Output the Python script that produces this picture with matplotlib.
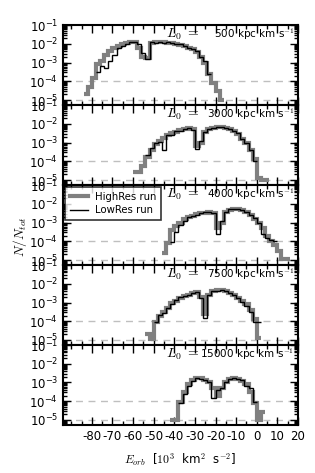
import numpy as np
import matplotlib
matplotlib.use("Agg")
import matplotlib.pyplot as plt
from matplotlib.ticker import MultipleLocator, LogLocator, NullFormatter

plt.rcParams['mathtext.fontset'] = 'cm'
plt.rcParams['font.family'] = ['DejaVu Sans']
plt.rcParams['axes.unicode_minus'] = False

# L0 values of each panel
l0_labels = ["500", "3000", "4000", "7500", "15000"]
bin_width = 2.0

# log10(N/Ntot) per 2x10^3 km^2 s^-2 bin
high_start = [-84, -60, -46, -54, -42]
high_logs = [
    [-4.7, -4.3, -3.8, -3.1, -2.9, -2.6, -2.4, -2.2, -2.1, -2.0, -1.95, -1.9,
     -1.9, -2.2, -2.7, -2.75, -1.95, -1.9, -1.9, -1.9, -1.95, -1.95, -2.0,
     -2.05, -2.1, -2.2, -2.3, -2.45, -2.7, -3.0, -3.6, -4.1, -4.5, -5.0],
    [-4.55, -4.55, -4.25, -3.75, -3.4, -3.1, -2.9, -2.75, -2.6, -2.5, -2.45,
     -2.35, -2.3, -2.25, -2.3, -3.2, -3.0, -2.45, -2.3, -2.2, -2.15, -2.15,
     -2.2, -2.3, -2.4, -2.55, -2.8, -3.05, -3.4, -3.9, -4.9, -5.0, -5.0],
    [-4.6, -4.1, -3.4, -3.2, -3.0, -2.8, -2.7, -2.65, -2.55, -2.5, -2.5,
     -2.45, -2.5, -3.3, -3.0, -2.45, -2.35, -2.3, -2.3, -2.35, -2.45, -2.6,
     -2.8, -3.0, -3.3, -3.7, -4.0, -4.2, -4.5, -4.95, -4.95],
    [-4.7, -4.95, -4.05, -3.7, -3.5, -3.3, -3.05, -2.9, -2.75, -2.65, -2.6,
     -2.5, -2.45, -2.7, -3.6, -2.6, -2.4, -2.35, -2.35, -2.4, -2.5, -2.6,
     -2.75, -2.9, -3.1, -3.4, -3.9, -4.9],
    [-5.0, -5.0, -4.05, -3.5, -3.1, -2.85, -2.75, -2.75, -2.85, -2.95, -3.3,
     -3.7, -3.3, -2.95, -2.8, -2.75, -2.8, -2.9, -3.1, -3.5, -4.1, -5.0, -4.6],
]

low_start = [-78, -54, -42, -50, -38]
low_logs = [
    [-3.5, -3.2, -3.3, -2.9, -2.6, -2.25, -2.1, -2.0, -1.9, -1.9, -2.0, -2.5,
     -2.8, -1.9, -1.95, -1.9, -1.95, -1.9, -1.95, -2.0, -2.0, -2.1, -2.2,
     -2.3, -2.4, -2.7, -2.9, -3.6],
    [-3.65, -3.3, -3.0, -2.95, -3.4, -2.6, -2.6, -2.4, -2.4, -2.3, -2.25,
     -2.35, -3.35, -2.9, -2.45, -2.3, -2.2, -2.15, -2.15, -2.2, -2.3, -2.4,
     -2.5, -2.8, -3.0, -3.4, -4.0],
    [-4.05, -3.5, -3.15, -2.9, -2.7, -2.65, -2.6, -2.5, -2.45, -2.45, -2.5,
     -3.6, -2.9, -2.45, -2.3, -2.3, -2.3, -2.35, -2.45, -2.6, -2.75, -3.0,
     -3.6, -3.8, -3.95, -4.0],
    [-4.05, -3.65, -3.55, -3.3, -3.1, -2.85, -2.7, -2.65, -2.6, -2.5, -2.45,
     -2.75, -3.8, -2.6, -2.4, -2.4, -2.35, -2.4, -2.5, -2.6, -2.75, -2.95,
     -3.2, -3.5, -4.05, -4.05],
    [-4.1, -3.6, -3.2, -2.9, -2.75, -2.8, -2.85, -2.95, -3.85, -3.4, -3.3,
     -2.95, -2.8, -2.75, -2.8, -2.85, -3.2, -3.3, -4.05],
]

fig, axes = plt.subplots(5, 1, figsize=(3.15, 4.73), dpi=100, sharex=True)
fig.subplots_adjust(left=0.2, right=0.946, top=0.947, bottom=0.1015, hspace=0)

for i, ax in enumerate(axes):
    hv = 10 ** np.array(high_logs[i])
    he = high_start[i] + bin_width * np.arange(len(hv) + 1)
    lv = 10 ** np.array(low_logs[i])
    le = low_start[i] + bin_width * np.arange(len(lv) + 1)
    ax.axhline(1e-4, color='0.75', lw=1, ls=(0, (5, 4)), zorder=1)
    ax.axhline(1e-5, color='0.75', lw=1, ls=(0, (5, 4)), zorder=1)
    ax.stairs(hv, he, baseline=None, color='0.5', lw=3, label='HighRes run', zorder=2)
    ax.stairs(lv, le, baseline=None, color='k', lw=1, label='LowRes run', zorder=3)
    ax.set_yscale('log')
    ax.set_ylim(5.4e-6, 0.1)
    ax.set_xlim(-94, 20)
    ax.yaxis.set_major_locator(LogLocator(base=10, numticks=10))
    ax.yaxis.set_minor_locator(LogLocator(base=10, subs=np.arange(2, 10), numticks=10))
    ax.yaxis.set_minor_formatter(NullFormatter())
    ax.xaxis.set_major_locator(MultipleLocator(10))
    ax.xaxis.set_minor_locator(MultipleLocator(5))
    ax.tick_params(which='both', direction='in', top=True, right=True,
                   labelsize=8.5, width=1)
    ax.tick_params(which='major', length=6)
    ax.tick_params(which='minor', length=3)
    for sp in ax.spines.values():
        sp.set_linewidth(1.5)
    ax.text(0.44, 0.88, r"$L_0\ =$", transform=ax.transAxes,
            ha='left', va='center', fontsize=10)
    ax.text(0.985, 0.88, l0_labels[i] + r" kpc km s$^{-1}$",
            transform=ax.transAxes, ha='right', va='center', fontsize=7.5)

leg = axes[2].legend(loc='upper left', fontsize=7.3, frameon=True, fancybox=False,
                     handlelength=1.8, handletextpad=0.7, borderpad=0.45,
                     labelspacing=0.35, borderaxespad=0.2)
leg.get_frame().set_edgecolor('k')
leg.get_frame().set_linewidth(1.2)

axes[-1].set_xticks(np.arange(-80, 21, 10))
axes[-1].set_xlabel(r"$E_{orb}$  [$10^3$  km$^2$  s$^{-2}$]", fontsize=8.5,
                    labelpad=6)
fig.text(0.065, 0.5, r"$N/N_{tot}$", rotation=90, va='center', ha='center',
         fontsize=9.5)

fig.savefig("out.png", dpi=100)
